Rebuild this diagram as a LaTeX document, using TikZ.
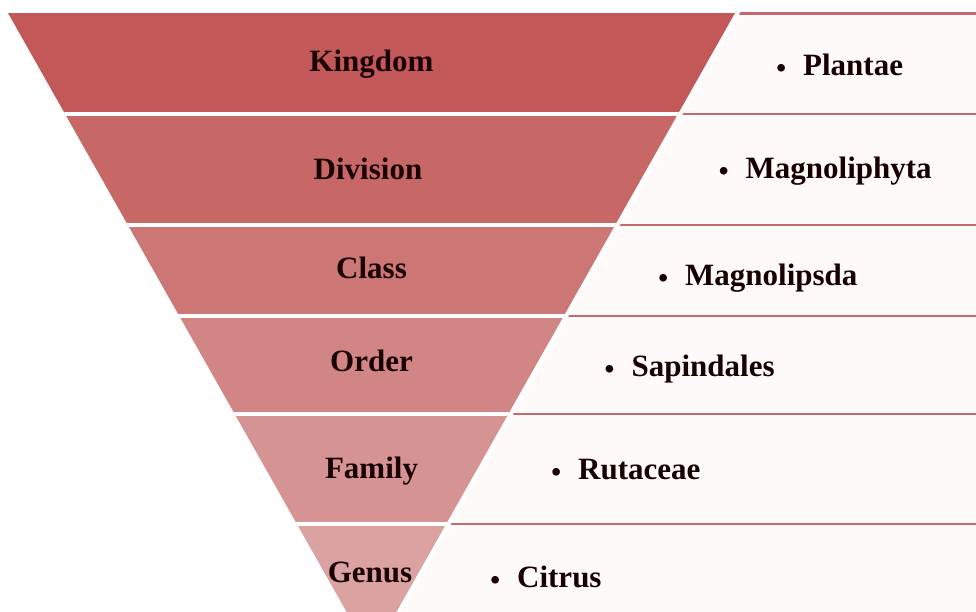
\documentclass[tikz,border=0pt]{standalone}
\usepackage{fontspec}
\setmainfont{Liberation Serif}
\definecolor{kA}{RGB}{194,88,88}
\definecolor{kB}{RGB}{199,104,103}
\definecolor{kC}{RGB}{204,118,117}
\definecolor{kD}{RGB}{209,133,132}
\definecolor{kE}{RGB}{214,147,147}
\definecolor{kF}{RGB}{219,162,162}
\definecolor{boxfill}{RGB}{254,250,250}
\definecolor{boxline}{RGB}{196,106,110}
\newcommand{\mybul}{\raisebox{-2pt}{\scalebox{0.9}{\textbullet}}\hspace{17.1pt}}
\begin{document}
\begin{tikzpicture}[x=1pt,y=-1pt,
  lbl/.style={font=\bfseries\fontsize{31}{36}\selectfont, inner sep=0pt, anchor=base, text=black!90!red},
  itm/.style={font=\bfseries\fontsize{31}{36}\selectfont, inner sep=0pt, anchor=base west, text=black!90!red},
  gapline/.style={white, line width=4pt},
  topline/.style={boxline, line width=2.6pt}]
\useasboundingbox (0,0) rectangle (976,612);
\fill[white] (0,0) rectangle (976,612);
\coordinate (TL) at (8,13);
\coordinate (TR) at (735,13);
\coordinate (A) at (371.5,656);
% right boxes
\begin{scope}
  \clip (747.3,0) -- (376.5,656) -- (990,656) -- (990,0) -- cycle;
  \fill[boxfill] (0,13) rectangle (976,620);
  \foreach \y in {13.5,114,225,316,414,524}
    \draw[topline] (0,\y) -- (976,\y);
\end{scope}
% inverted pyramid bands
\begin{scope}
  \clip (TL) -- (TR) -- (A) -- cycle;
  \fill[kA] (0,13) rectangle (976,114);
  \fill[kB] (0,114) rectangle (976,225);
  \fill[kC] (0,225) rectangle (976,316);
  \fill[kD] (0,316) rectangle (976,414);
  \fill[kE] (0,414) rectangle (976,524);
  \fill[kF] (0,524) rectangle (976,660);
  \foreach \y in {114,225,316,414,524}
    \draw[gapline] (0,\y) -- (976,\y);
\end{scope}
% level labels
\node[lbl] (kingdom) at (371.5,72) {Kingdom};
\node[lbl] (division) at (368,179.5) {Division};
\node[lbl] (class) at (371.5,278) {Class};
\node[lbl] (order) at (371.5,371) {Order};
\node[lbl] (family) at (371.5,478) {Family};
\node[lbl] (genus) at (370,582) {Genus};
% items
\node[itm] (plantae) at (776.1,75.5) {\mybul Plantae};
\node[itm] (magnoliphyta) at (718.6,179) {\mybul Magnoliphyta};
\node[itm] (magnolipsda) at (658.1,285) {\mybul Magnolipsda};
\node[itm] (sapindales) at (604.5,376) {\mybul Sapindales};
\node[itm] (rutaceae) at (551.1,479) {\mybul Rutaceae};
\node[itm] (citrus) at (490.1,587) {\mybul Citrus};
\end{tikzpicture}
\end{document}
